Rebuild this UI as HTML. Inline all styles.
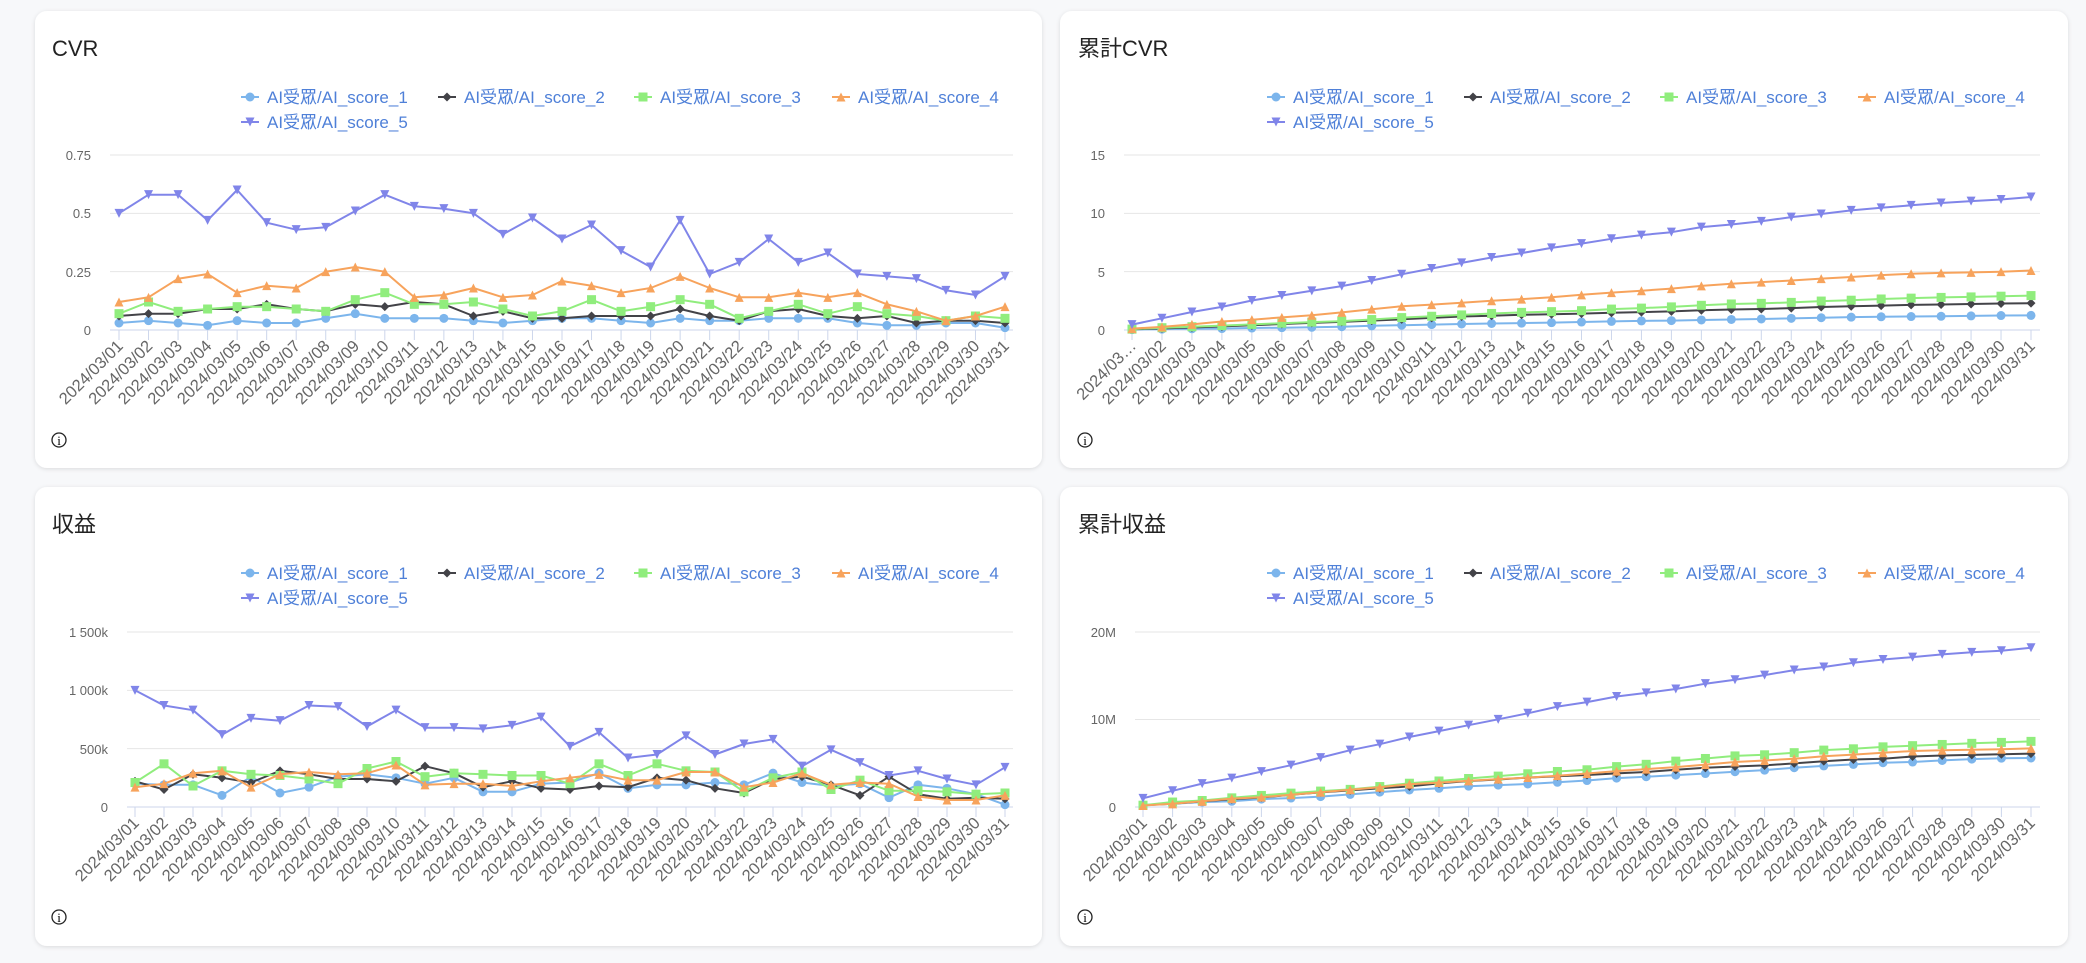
<!DOCTYPE html>
<html><head><meta charset="utf-8">
<style>
html,body{margin:0;padding:0;background:#f7f8fa;width:2086px;height:963px;overflow:hidden}
svg{display:block;font-family:"Liberation Sans","Noto Sans CJK JP",sans-serif}
.xl text{font-size:16.5px;fill:#666;text-anchor:end}
.yl{font-size:13px;fill:#666;text-anchor:end}
.lg{font-size:17px;fill:#4f80d8}
.tt{font-size:22px;fill:#222}
</style></head><body>
<svg id="s" width="2086" height="963" viewBox="0 0 2086 963">
<defs><filter id="sh" x="-5%" y="-5%" width="110%" height="110%"><feDropShadow dx="0" dy="1" stdDeviation="2" flood-color="#000" flood-opacity="0.12"/></filter></defs>
<rect x="35" y="11" width="1007" height="457" rx="12" fill="#fff" filter="url(#sh)"/>
<rect x="1060" y="11" width="1008" height="457" rx="12" fill="#fff" filter="url(#sh)"/>
<rect x="35" y="487" width="1007" height="459" rx="12" fill="#fff" filter="url(#sh)"/>
<rect x="1060" y="487" width="1008" height="459" rx="12" fill="#fff" filter="url(#sh)"/>
<text class="tt" x="52" y="56">CVR</text>
<text class="tt" x="1078" y="56">累計CVR</text>
<text class="tt" x="52" y="532">収益</text>
<text class="tt" x="1078" y="532">累計収益</text>
<g id="grids"></g>
<text class="yl" x="91" y="335">0</text><text class="yl" x="91" y="277">0.25</text><text class="yl" x="91" y="218">0.5</text><text class="yl" x="91" y="160">0.75</text>
<text class="yl" x="1105" y="335">0</text><text class="yl" x="1105" y="277">5</text><text class="yl" x="1105" y="218">10</text><text class="yl" x="1105" y="160">15</text>
<text class="yl" x="108" y="812">0</text><text class="yl" x="108" y="754">500k</text><text class="yl" x="108" y="695">1 000k</text><text class="yl" x="108" y="637">1 500k</text>
<text class="yl" x="1116" y="812">0</text><text class="yl" x="1116" y="724">10M</text><text class="yl" x="1116" y="637">20M</text>
<g id="lg1" class="lgg"><text class="lg" x="267" y="103">AI受眾/AI_score_1</text><text class="lg" x="464" y="103">AI受眾/AI_score_2</text><text class="lg" x="660" y="103">AI受眾/AI_score_3</text><text class="lg" x="858" y="103">AI受眾/AI_score_4</text><text class="lg" x="267" y="128">AI受眾/AI_score_5</text></g>
<g id="lg2" class="lgg" transform="translate(1026,0)"><text class="lg" x="267" y="103">AI受眾/AI_score_1</text><text class="lg" x="464" y="103">AI受眾/AI_score_2</text><text class="lg" x="660" y="103">AI受眾/AI_score_3</text><text class="lg" x="858" y="103">AI受眾/AI_score_4</text><text class="lg" x="267" y="128">AI受眾/AI_score_5</text></g>
<g id="lg3" class="lgg" transform="translate(0,476)"><text class="lg" x="267" y="103">AI受眾/AI_score_1</text><text class="lg" x="464" y="103">AI受眾/AI_score_2</text><text class="lg" x="660" y="103">AI受眾/AI_score_3</text><text class="lg" x="858" y="103">AI受眾/AI_score_4</text><text class="lg" x="267" y="128">AI受眾/AI_score_5</text></g>
<g id="lg4" class="lgg" transform="translate(1026,476)"><text class="lg" x="267" y="103">AI受眾/AI_score_1</text><text class="lg" x="464" y="103">AI受眾/AI_score_2</text><text class="lg" x="660" y="103">AI受眾/AI_score_3</text><text class="lg" x="858" y="103">AI受眾/AI_score_4</text><text class="lg" x="267" y="128">AI受眾/AI_score_5</text></g>
<g id="xl1" class="xl"><text>2024/03/01</text><text>2024/03/02</text><text>2024/03/03</text><text>2024/03/04</text><text>2024/03/05</text><text>2024/03/06</text><text>2024/03/07</text><text>2024/03/08</text><text>2024/03/09</text><text>2024/03/10</text><text>2024/03/11</text><text>2024/03/12</text><text>2024/03/13</text><text>2024/03/14</text><text>2024/03/15</text><text>2024/03/16</text><text>2024/03/17</text><text>2024/03/18</text><text>2024/03/19</text><text>2024/03/20</text><text>2024/03/21</text><text>2024/03/22</text><text>2024/03/23</text><text>2024/03/24</text><text>2024/03/25</text><text>2024/03/26</text><text>2024/03/27</text><text>2024/03/28</text><text>2024/03/29</text><text>2024/03/30</text><text>2024/03/31</text></g>
<g id="xl2" class="xl"><text>2024/03…</text><text>2024/03/02</text><text>2024/03/03</text><text>2024/03/04</text><text>2024/03/05</text><text>2024/03/06</text><text>2024/03/07</text><text>2024/03/08</text><text>2024/03/09</text><text>2024/03/10</text><text>2024/03/11</text><text>2024/03/12</text><text>2024/03/13</text><text>2024/03/14</text><text>2024/03/15</text><text>2024/03/16</text><text>2024/03/17</text><text>2024/03/18</text><text>2024/03/19</text><text>2024/03/20</text><text>2024/03/21</text><text>2024/03/22</text><text>2024/03/23</text><text>2024/03/24</text><text>2024/03/25</text><text>2024/03/26</text><text>2024/03/27</text><text>2024/03/28</text><text>2024/03/29</text><text>2024/03/30</text><text>2024/03/31</text></g>
<g id="xl3" class="xl"><text>2024/03/01</text><text>2024/03/02</text><text>2024/03/03</text><text>2024/03/04</text><text>2024/03/05</text><text>2024/03/06</text><text>2024/03/07</text><text>2024/03/08</text><text>2024/03/09</text><text>2024/03/10</text><text>2024/03/11</text><text>2024/03/12</text><text>2024/03/13</text><text>2024/03/14</text><text>2024/03/15</text><text>2024/03/16</text><text>2024/03/17</text><text>2024/03/18</text><text>2024/03/19</text><text>2024/03/20</text><text>2024/03/21</text><text>2024/03/22</text><text>2024/03/23</text><text>2024/03/24</text><text>2024/03/25</text><text>2024/03/26</text><text>2024/03/27</text><text>2024/03/28</text><text>2024/03/29</text><text>2024/03/30</text><text>2024/03/31</text></g>
<g id="xl4" class="xl"><text>2024/03/01</text><text>2024/03/02</text><text>2024/03/03</text><text>2024/03/04</text><text>2024/03/05</text><text>2024/03/06</text><text>2024/03/07</text><text>2024/03/08</text><text>2024/03/09</text><text>2024/03/10</text><text>2024/03/11</text><text>2024/03/12</text><text>2024/03/13</text><text>2024/03/14</text><text>2024/03/15</text><text>2024/03/16</text><text>2024/03/17</text><text>2024/03/18</text><text>2024/03/19</text><text>2024/03/20</text><text>2024/03/21</text><text>2024/03/22</text><text>2024/03/23</text><text>2024/03/24</text><text>2024/03/25</text><text>2024/03/26</text><text>2024/03/27</text><text>2024/03/28</text><text>2024/03/29</text><text>2024/03/30</text><text>2024/03/31</text></g>
<g font-size="13" font-family="Liberation Serif,serif" text-anchor="middle">
<circle cx="59" cy="440" r="7" fill="none" stroke="#222" stroke-width="1.3"/><text x="59" y="445">i</text>
<circle cx="1085" cy="440" r="7" fill="none" stroke="#222" stroke-width="1.3"/><text x="1085" y="445">i</text>
<circle cx="59" cy="917" r="7" fill="none" stroke="#222" stroke-width="1.3"/><text x="59" y="922">i</text>
<circle cx="1085" cy="917" r="7" fill="none" stroke="#222" stroke-width="1.3"/><text x="1085" y="922">i</text>
</g>
<g id="series"></g>
</svg>
<script>
var NS="http://www.w3.org/2000/svg";
var COL=["#7cb5ec","#434348","#90ed7d","#f7a35c","#8085e9"];
function el(t,a,p){var e=document.createElementNS(NS,t);for(var k in a)e.setAttribute(k,a[k]);p.appendChild(e);return e;}
function marker(i,x,y,p){var c=COL[i],r=4.5;
 if(i==0)el("circle",{cx:x,cy:y,r:r,fill:c},p);
 else if(i==1)el("path",{d:"M"+x+" "+(y-r)+"L"+(x+r)+" "+y+"L"+x+" "+(y+r)+"L"+(x-r)+" "+y+"Z",fill:c},p);
 else if(i==2)el("rect",{x:x-r,y:y-r,width:2*r,height:2*r,fill:c},p);
 else if(i==3)el("path",{d:"M"+x+" "+(y-r)+"L"+(x+r)+" "+(y+r)+"L"+(x-r)+" "+(y+r)+"Z",fill:c},p);
 else el("path",{d:"M"+(x-r)+" "+(y-r)+"L"+(x+r)+" "+(y-r)+"L"+x+" "+(y+r)+"Z",fill:c},p);}
var cvr=[
[.03,.04,.03,.02,.04,.03,.03,.05,.07,.05,.05,.05,.04,.03,.04,.05,.05,.04,.03,.05,.04,.04,.05,.05,.05,.03,.02,.02,.03,.03,.01],
[.06,.07,.07,.09,.09,.11,.09,.08,.11,.10,.12,.11,.06,.08,.05,.05,.06,.06,.06,.09,.06,.04,.08,.09,.06,.05,.06,.03,.04,.04,.03],
[.07,.12,.08,.09,.10,.10,.09,.08,.13,.16,.11,.11,.12,.09,.06,.08,.13,.08,.10,.13,.11,.05,.08,.11,.07,.10,.07,.06,.04,.06,.05],
[.12,.14,.22,.24,.16,.19,.18,.25,.27,.25,.14,.15,.18,.14,.15,.21,.19,.16,.18,.23,.18,.14,.14,.16,.14,.16,.11,.08,.04,.06,.10],
[.5,.58,.58,.47,.6,.46,.43,.44,.51,.58,.53,.52,.5,.41,.48,.39,.45,.34,.27,.47,.24,.29,.39,.29,.33,.24,.23,.22,.17,.15,.23]];
var rev=[
[200,190,190,100,260,120,170,260,280,250,200,250,130,130,200,210,290,160,190,190,210,190,290,210,180,200,80,190,160,110,20],
[220,150,280,250,210,310,280,240,240,220,350,290,170,220,160,150,180,170,250,230,160,120,240,260,190,100,260,110,70,80,70],
[210,370,180,310,280,270,240,200,330,390,260,290,280,270,270,200,370,270,370,310,300,130,250,300,150,230,140,140,130,110,120],
[170,200,290,310,170,280,300,280,290,360,190,200,200,180,220,250,280,230,230,300,300,170,210,290,190,210,200,90,60,60,100],
[1000,870,830,620,760,740,870,860,690,830,680,680,670,700,770,520,640,420,450,610,450,540,580,350,490,380,270,310,240,190,340]];
function cum(arr,fin){return arr.map(function(a,i){var s=0,o=a.map(function(v){s+=v;return s;});var k=fin[i]/s;return o.map(function(v){return v*k;});});}
var charts=[
{d:cvr,gx0:110,gx1:1013,px0:119,px1:1005,yt:155,y0:330,max:.75,t:[0,.25,.5,.75],xl:"xl1"},
{d:cum(cvr,[1.25,2.3,2.95,5.1,11.4]),gx0:1124,gx1:2040,px0:1132,px1:2031,yt:155,y0:330,max:15,t:[0,5,10,15],xl:"xl2"},
{d:rev,gx0:127,gx1:1013,px0:135,px1:1005,yt:632,y0:807,max:1500,t:[0,500,1000,1500],xl:"xl3"},
{d:cum(rev,[5.6,6.1,7.5,6.7,18.2]),gx0:1135,gx1:2040,px0:1143,px1:2031,yt:632,y0:807,max:20,t:[0,10,20],xl:"xl4"}];
var G=document.getElementById("grids"),S=document.getElementById("series");
charts.forEach(function(c){
 var h=c.y0-c.yt;
 c.t.forEach(function(v){if(v>0){var y=c.y0-v/c.max*h;el("line",{x1:c.gx0,x2:c.gx1,y1:y,y2:y,stroke:"#e6e6e6","stroke-width":1},G);}});
 el("line",{x1:c.gx0,x2:c.gx1,y1:c.y0,y2:c.y0,stroke:"#ccd6eb","stroke-width":1},G);
 var dx=(c.px1-c.px0)/30;
 for(var j=0;j<31;j++){var x=c.px0+j*dx;el("line",{x1:x,x2:x,y1:c.y0,y2:c.y0+10,stroke:"#ccd6eb"},G);}
 var tx=document.getElementById(c.xl).children;
 for(var j=0;j<tx.length;j++){var x=c.px0+j*dx;tx[j].setAttribute("transform","translate("+(x+5)+","+(c.y0+17)+") rotate(-45)");}
 c.d.forEach(function(s,i){
  var pts=s.map(function(v,j){return [c.px0+j*dx,c.y0-v/c.max*h];});
  el("polyline",{points:pts.map(function(p){return p[0].toFixed(1)+","+p[1].toFixed(1)}).join(" "),fill:"none",stroke:COL[i],"stroke-width":2,"stroke-linejoin":"round"},S);
  pts.forEach(function(p){marker(i,p[0],p[1],S);});
 });
});
[[0,0],[1026,0],[0,476],[1026,476]].forEach(function(o){
 var pos=[[250,97],[447,97],[643,97],[841,97],[250,122]];
 pos.forEach(function(p,i){var x=p[0]+o[0],y=p[1]+o[1];
  el("line",{x1:x-9,x2:x+9,y1:y,y2:y,stroke:COL[i],"stroke-width":2},S);marker(i,x,y,S);});
});
</script>
</body></html>
